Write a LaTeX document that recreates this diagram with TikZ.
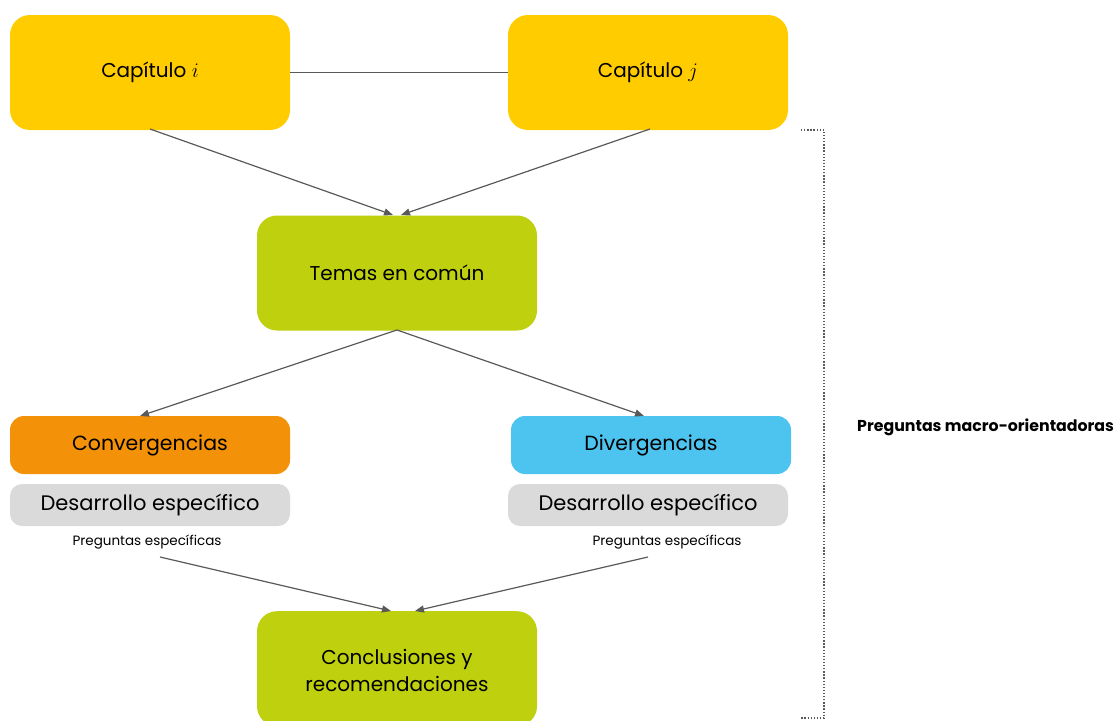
\documentclass[tikz,border=0pt]{standalone}
\usepackage{fontspec}
\setmainfont{Poppins}
\usetikzlibrary{arrows.meta}
\definecolor{cyellow}{RGB}{255,204,0}
\definecolor{cgreen}{RGB}{190,208,14}
\definecolor{corange}{RGB}{243,146,8}
\definecolor{cblue}{RGB}{77,195,239}
\definecolor{cgrey}{RGB}{218,218,218}
\definecolor{cline}{RGB}{89,89,89}
\begin{document}
\begin{tikzpicture}[x=1pt,y=-1pt,
  box/.style={rounded corners=20pt, inner sep=0pt, text=black},
  bigbox/.style={box, minimum width=280pt, minimum height=115pt, font=\fontsize{20}{24}\selectfont, align=center},
  midbox/.style={box, rounded corners=14pt, minimum width=280pt, minimum height=58pt, font=\fontsize{20.5}{24}\selectfont},
  greybox/.style={box, rounded corners=12pt, fill=cgrey, minimum width=280pt, minimum height=42pt, font=\fontsize{21}{24}\selectfont},
  small/.style={inner sep=0pt, font=\fontsize{13.5}{16}\selectfont},
  conn/.style={draw=cline, line width=1.2pt, -{Triangle[length=9pt,width=7pt]}},
  plain/.style={draw=cline, line width=1.2pt},
  bracket/.style={draw=cline, line width=1.3pt, dash pattern=on 1.3pt off 1.8pt}
]
\useasboundingbox (0,0) rectangle (1118,720);
\clip (0,0) rectangle (1118,720);
\node[bigbox, fill=cyellow] (ci) at (150,72.5) {Capítulo {\fontsize{22}{24}\selectfont$i$}};
\node[bigbox, fill=cyellow] (cj) at (648,72.5) {Capítulo {\fontsize{22}{24}\selectfont$j$}};
\node[bigbox, fill=cgreen] (tc) at (397,273) {Temas en común};
\node[midbox, fill=corange] (cv) at (150,445) {Convergencias};
\node[midbox, fill=cblue] (dv) at (651,445) {Divergencias};
\node[greybox] (d1) at (150,505) {Desarrollo específico};
\node[greybox] (d2) at (648,505) {Desarrollo específico};
\node[small] (p1) at (147,542) {Preguntas específicas};
\node[small] (p2) at (667,542) {Preguntas específicas};
\node[bigbox, fill=cgreen, anchor=north] (cr) at (397,611) {};
\node[font=\fontsize{20}{27}\selectfont, align=center, inner sep=0pt] (crt) at (397,670) {Conclusiones y\\recomendaciones};
\node[anchor=west, inner sep=0pt, font=\fontsize{15.8}{18}\selectfont\bfseries] (macro) at (857,427) {Preguntas macro-orientadoras};

\coordinate (ciB) at (150,129);
\coordinate (cjB) at (650,129);
\coordinate (tcT1) at (393,215);
\coordinate (tcT2) at (401,215);
\coordinate (tcB) at (397,330);
\coordinate (cvT) at (140,416);
\coordinate (dvT) at (644,416);
\coordinate (p1B) at (160,557);
\coordinate (p2B) at (648,557);
\coordinate (crT1) at (391,611);
\coordinate (crT2) at (415,611);

\draw[plain] (ci.east) -- (cj.west);
\draw[conn] (ciB) -- (tcT1);
\draw[conn] (cjB) -- (tcT2);
\draw[conn] (tcB) -- (cvT);
\draw[conn] (tcB) -- (dvT);
\draw[conn] (p1B) -- (crT1);
\draw[conn] (p2B) -- (crT2);

\coordinate (b1) at (801,130);
\coordinate (b2) at (824,130);
\coordinate (b3) at (824,718);
\coordinate (b4) at (801,718);
\draw[bracket] (b1) -- (b2) -- (b3) -- (b4);
\end{tikzpicture}
\end{document}
